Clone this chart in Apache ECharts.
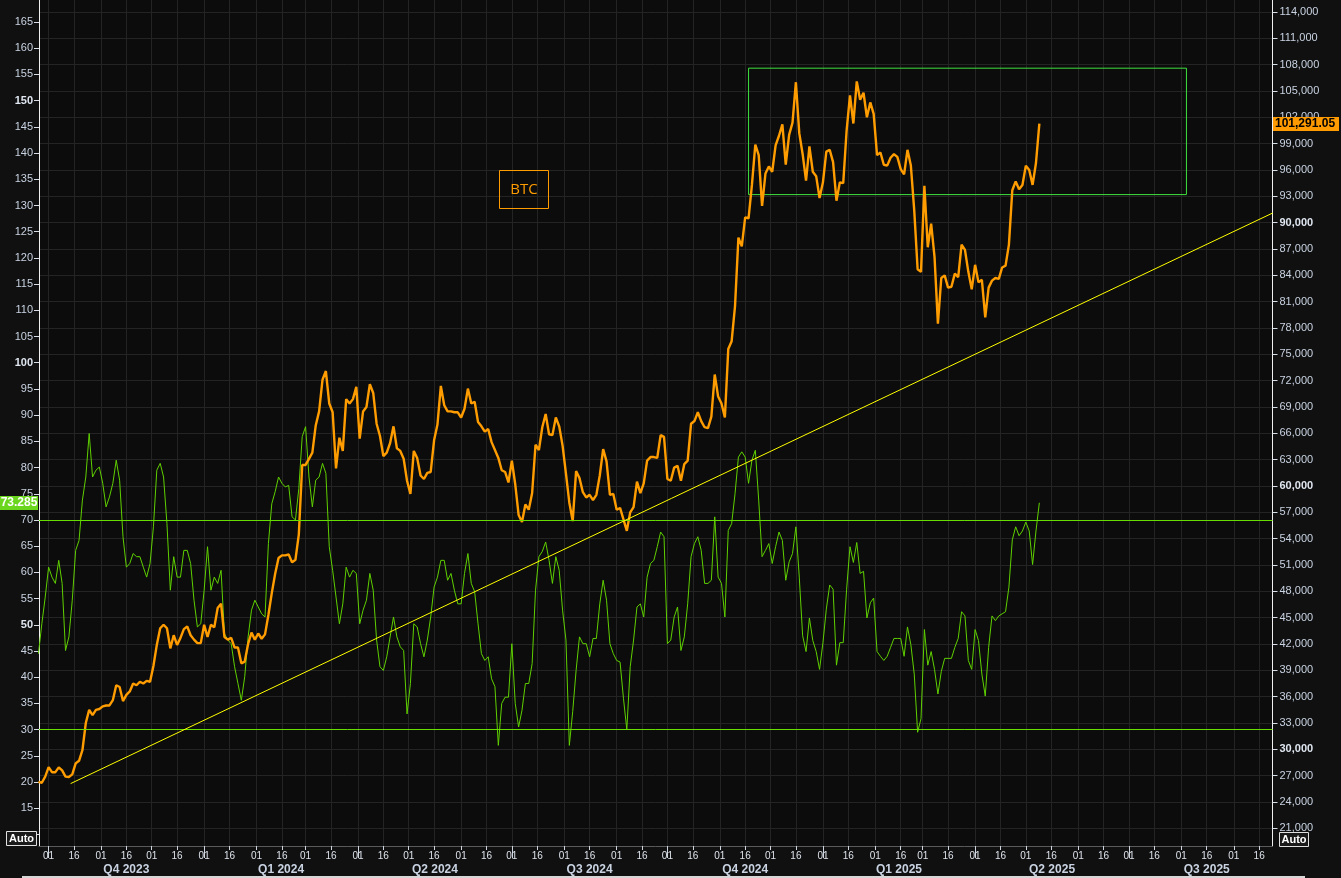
<!DOCTYPE html>
<html><head><meta charset="utf-8">
<script src="https://cdn.jsdelivr.net/npm/echarts@6/dist/echarts.min.js"></script>
<style>html,body{margin:0;padding:0;background:#101010;}#c{width:1341px;height:878px;}</style>
</head><body><div id="c"></div>
<script>
// ---------- DATA ----------
const SERIES_START = '2023-09-25';
const STEP_DAYS = 2;
const btc = [26300,26200,26900,27980,27400,27400,27950,27600,26900,26850,
27150,28400,28700,29900,33000,34500,33900,34500,34600,34900,
35000,35000,35600,37300,37100,35500,36200,36600,37500,37300,
37700,37500,37800,37700,39500,41900,43800,44200,43800,41500,
43000,41900,42700,43700,44000,43000,42500,42100,42100,44200,
42800,44200,43900,46100,46600,42800,42500,42700,41600,41600,
39800,40000,42000,43300,42500,43200,42600,43100,45300,47800,
50000,51800,52100,52100,52200,51300,51600,54500,62400,62400,
63100,63800,66900,68500,72100,73100,69400,68400,62000,65500,
64000,69900,69400,69900,71300,65400,68500,69000,71600,70600,
67100,65700,63400,63800,64900,66800,64300,64000,63100,60600,
59100,64000,63200,61200,60800,61500,61600,65200,67000,71400,
69200,68500,68500,68400,68400,67800,68800,71100,69400,69600,
67300,66800,66200,66500,65000,64100,63200,61800,61600,60400,
62900,60200,56700,55900,57900,57300,59200,64700,64100,66700,
68200,65900,65800,67800,66800,64600,61400,58100,56000,61700,
60900,59300,58700,59000,58400,59000,61200,64200,62800,59000,
59100,57300,57500,56200,54900,57000,57600,60500,59200,60300,
62900,63300,63300,63200,65800,65600,60800,60600,62100,62300,
60600,62500,62900,67100,67400,68400,67400,66700,66600,67900,
72700,70200,69400,67800,75600,76500,80500,88300,87300,90600,
90500,94300,98900,97700,91900,95600,96400,95800,98800,99900,
101200,96600,100000,101400,106000,100200,97800,94800,98700,95800,
95300,92800,94600,98100,98300,96900,92500,94600,94500,100500,
104500,101300,106100,104000,104800,102000,103700,102400,97700,98000,
96600,96500,97400,97800,97500,96100,95500,98300,96500,91400,
84700,84400,94200,87200,89900,86100,78500,83700,84000,82600,
82700,84200,83800,87500,86900,84400,82400,85200,83200,83500,
79200,82600,83400,83700,83600,84900,85100,87500,93700,94700,
93800,94300,96500,96000,94300,96800,101291.05];
const rsi = [44.5,50.2,55.3,61.0,59.1,57.9,62.3,57.9,45.1,47.7,
54.7,64.2,66.1,73.8,78.2,86.5,78.2,79.5,80.1,77.0,
72.5,74.4,77.0,81.4,77.6,66.8,61.0,61.7,63.6,63.0,
63.0,61.0,59.1,61.7,68.7,79.5,80.8,78.2,69.3,56.6,
63.0,59.1,59.1,64.2,64.2,61.7,54.7,49.6,50.2,56.6,
64.9,56.6,59.1,57.9,60.4,48.3,47.1,46.4,42.0,38.8,
35.6,40.1,47.7,52.8,54.7,53.4,52.1,51.5,65.5,73.1,
75.4,78.2,77.0,76.3,76.6,70.6,70.0,76.0,85.9,87.8,
78.2,72.5,77.6,78.2,80.8,78.9,64.9,60.4,55.3,50.2,
54.0,61.0,59.1,60.4,59.8,50.2,52.8,54.7,59.8,56.6,
47.1,42.0,41.3,43.9,47.7,51.5,47.7,45.8,45.1,33.0,
38.8,50.2,49.6,46.4,43.9,47.1,51.5,57.2,59.1,62.3,
62.3,58.5,59.8,56.6,54.0,54.0,59.8,63.6,57.9,56.3,
50.2,44.5,43.2,43.9,39.7,38.2,27.0,35.0,36.2,36.2,
46.4,35.0,30.5,33.7,38.8,38.8,42.6,56.6,63.0,64.0,
65.8,62.3,57.9,63.0,60.4,52.8,47.1,27.0,33.5,41.3,
47.7,46.4,46.4,43.9,47.4,47.4,54.0,58.5,54.7,46.4,
44.5,43.2,42.9,36.0,30.0,42.0,47.1,53.4,54.0,51.5,
59.1,61.7,62.3,64.9,67.7,66.8,46.4,47.1,51.5,53.4,
45.1,47.7,54.0,63.0,65.5,66.8,64.2,57.9,57.9,58.5,
70.6,59.1,57.9,51.5,68.0,69.3,75.0,82.0,83.0,82.0,
77.0,81.4,83.3,73.8,63.0,64.2,65.5,61.7,64.9,67.7,
66.1,58.5,62.0,63.6,68.7,59.1,47.9,44.9,51.3,47.0,
44.9,41.5,46.6,53.0,57.6,56.8,42.3,46.6,46.6,56.8,
64.9,61.9,65.7,59.8,60.2,51.3,54.2,55.1,44.9,44.0,
43.2,44.0,45.7,47.4,47.4,47.4,44.0,49.6,46.2,40.6,
29.5,32.1,49.1,42.3,44.9,41.5,36.8,41.1,43.6,43.6,
43.6,45.7,47.4,52.5,51.7,43.2,41.5,49.1,47.0,40.6,
36.4,45.7,51.7,50.8,51.7,52.1,52.5,57.2,66.2,68.7,
67.0,67.9,69.6,67.9,61.5,67.9,73.285];
const RSI_LEVELS = [70, 30];
const BOX_DATES = ['2024-11-18', '2025-08-04'];
const BOX_PRICES = [107600, 93200];
const TREND_DATES = ['2023-10-14', '2025-09-24'];
const TREND_PRICES = [26100, 91100];
const LEFT_TICK_MARKS = [10,15,20,25,30,35,40,45,50,55,60,65,70,75,80,85,90,95,100,105,110,115,120,125,130,135,140,145,150,155,160,165];
const LEFT_TICK_LABELS = [15,20,25,30,35,40,45,50,55,60,65,70,75,80,85,90,95,100,105,110,115,120,125,130,135,140,145,150,155,160,165];
const LEFT_BOLD = [50,100,150];
const RIGHT_TICKS = [21000,24000,27000,30000,33000,36000,39000,42000,45000,48000,51000,54000,57000,60000,63000,66000,69000,72000,75000,78000,81000,84000,87000,90000,93000,96000,99000,102000,105000,108000,111000,114000];
const RIGHT_BOLD = [30000,60000,90000];
const QUARTER_LABELS = ['Q4 2023','Q1 2024','Q2 2024','Q3 2024','Q4 2024','Q1 2025','Q2 2025','Q3 2025'];
const SERIES_NAME = 'BTC';

// ---------- helpers ----------
const DAY = 86400000;
const ts = s => Date.parse(s + 'T00:00:00Z');
const T_ORIGIN = Date.UTC(2023, 9, 1);
const X_MIN = T_ORIGIN - 5.68 * DAY;
const X_MAX = T_ORIGIN + 723.9 * DAY;
const t0 = ts(SERIES_START);
const btcData = btc.map((v, i) => [t0 + i * STEP_DAYS * DAY, v]);
const rsiData = rsi.map((v, i) => [t0 + i * STEP_DAYS * DAY, v]);
const trendData = TREND_DATES.map((d, i) => [ts(d), TREND_PRICES[i]]);

const dayTicks = [];
for (let y = 2023; y <= 2025; y++) for (let m = 0; m < 12; m++) {
  [1, 16].forEach(d => { const t = Date.UTC(y, m, d); if (t >= X_MIN && t <= X_MAX) dayTicks.push(t); });
}
const qStart = QUARTER_LABELS.map(q => { const n = +q[1]; const y = +q.slice(3); return Date.UTC(y, (n - 1) * 3, 1); });
const qEnd = QUARTER_LABELS.map(q => { const n = +q[1]; const y = +q.slice(3); return Date.UTC(y, n * 3, 1); });
const qMid = qStart.map((s, i) => (s + qEnd[i]) / 2);

const LABEL_COLOR = '#c9d3e2';
const FONT = 'Liberation Sans';
const GRID_COLOR = '#242424';
const L = 39, R = 68.5;

const chart = echarts.init(document.getElementById('c'), null, {renderer: 'canvas'});
const fmtNum = v => v.toLocaleString('en-US');

chart.setOption({
  animation: false,
  backgroundColor: '#101010',
  grid: [
    {left: L, right: R, top: 0, height: 854.7},
    {left: L, right: R, top: 0, height: 860.7},
    {left: L, right: R, top: 0, height: 846, show: true, backgroundColor: '#0c0c0c', borderWidth: 0}
  ],
  xAxis: [
    {gridIndex: 0, type: 'value', min: X_MIN, max: X_MAX, show: false},
    {gridIndex: 1, type: 'value', min: X_MIN, max: X_MAX, show: false},
    {gridIndex: 2, type: 'value', min: X_MIN, max: X_MAX, position: 'bottom',
      axisLine: {show: true, lineStyle: {color: '#5a5a5a', width: 1}},
      axisTick: {show: true, customValues: dayTicks, length: 4, lineStyle: {color: '#cfd6e0'}},
      axisLabel: {show: true, customValues: dayTicks, margin: 5, color: '#dde3ec', fontFamily: FONT, fontSize: 10,
        formatter: v => String(new Date(v).getUTCDate()).padStart(2, '0')},
      splitLine: {show: true, lineStyle: {color: GRID_COLOR, width: 1}},
      splitArea: {show: false}},
    {gridIndex: 2, type: 'value', min: X_MIN, max: X_MAX, position: 'bottom', offset: 17,
      axisLine: {show: false},
      axisTick: {show: true, customValues: qStart, length: 12, lineStyle: {color: '#cfd6e0'}},
      axisLabel: {show: true, customValues: qMid, margin: 1, color: LABEL_COLOR, fontFamily: FONT, fontSize: 12, fontWeight: 'bold',
        formatter: v => { let k = 0, best = Infinity; qMid.forEach((m, i) => { const d = Math.abs(m - v); if (d < best) { best = d; k = i; } }); return QUARTER_LABELS[k]; }},
      splitLine: {show: false}}
  ],
  yAxis: [
    {gridIndex: 0, type: 'value', position: 'right', min: 18000, max: 115367,
      axisLine: {show: false},
      axisTick: {show: true, customValues: RIGHT_TICKS, length: 5, lineStyle: {color: '#d8dee8'}},
      axisLabel: {show: true, customValues: RIGHT_TICKS, margin: 7, color: LABEL_COLOR, fontFamily: FONT, fontSize: 11,
        formatter: v => RIGHT_BOLD.includes(v) ? '{b|' + fmtNum(v) + '}' : fmtNum(v),
        rich: {b: {fontWeight: 'bold', color: '#dfe6f0', fontFamily: FONT, fontSize: 11}}},
      splitLine: {show: true, lineStyle: {color: GRID_COLOR, width: 1}}},
    {gridIndex: 1, type: 'value', position: 'left', min: 5, max: 169.2,
      axisLine: {show: false},
      axisTick: {show: true, customValues: LEFT_TICK_MARKS, length: 5, lineStyle: {color: '#d8dee8'}},
      axisLabel: {show: true, customValues: LEFT_TICK_LABELS, margin: 6, color: LABEL_COLOR, fontFamily: FONT, fontSize: 11,
        formatter: v => LEFT_BOLD.includes(v) ? '{b|' + v + '}' : String(v),
        rich: {b: {fontWeight: 'bold', color: '#dfe6f0', fontFamily: FONT, fontSize: 11}}},
      splitLine: {show: false}},
    {gridIndex: 2, type: 'value', position: 'left', min: 0, max: 1,
      axisLine: {show: true, lineStyle: {color: '#f0f0f0', width: 1}},
      axisTick: {show: false}, axisLabel: {show: false}, splitLine: {show: false}},
    {gridIndex: 2, type: 'value', position: 'right', min: 0, max: 1,
      axisLine: {show: true, lineStyle: {color: '#f0f0f0', width: 1}},
      axisTick: {show: false}, axisLabel: {show: false}, splitLine: {show: false}}
  ],
  series: [
    {type: 'line', name: 'RSI', xAxisIndex: 1, yAxisIndex: 1, data: rsiData, showSymbol: false, symbol: 'none',
      lineStyle: {color: '#5fd000', width: 1}, z: 3, silent: true,
      markLine: {silent: true, symbol: 'none', label: {show: false}, animation: false,
        lineStyle: {color: '#66dd00', width: 1, type: 'solid'},
        data: RSI_LEVELS.map(v => ({yAxis: v}))}},
    {type: 'line', name: SERIES_NAME, xAxisIndex: 0, yAxisIndex: 0, data: btcData, showSymbol: false, symbol: 'none',
      lineStyle: {color: '#ff9d00', width: 2.4}, z: 4, silent: true,
      markArea: {silent: true, label: {show: false},
        itemStyle: {color: 'rgba(0,0,0,0)', borderColor: '#3fe03f', borderWidth: 1},
        data: [[{coord: [ts(BOX_DATES[0]), BOX_PRICES[0]]}, {coord: [ts(BOX_DATES[1]), BOX_PRICES[1]]}]]}},
    {type: 'line', name: 'Trend', xAxisIndex: 0, yAxisIndex: 0, data: trendData, showSymbol: false, symbol: 'none',
      lineStyle: {color: '#ffff00', width: 1}, z: 6, silent: true}
  ]
});

// tags & annotations
const lastRsi = rsi[rsi.length - 1];
const lastBtc = btc[btc.length - 1];
const yR = chart.convertToPixel({yAxisIndex: 1}, lastRsi);
const yB = chart.convertToPixel({yAxisIndex: 0}, lastBtc);
const btcTxt = lastBtc.toLocaleString('en-US', {minimumFractionDigits: 2, maximumFractionDigits: 2});
chart.setOption({
  graphic: [
    {type: 'rect', shape: {x: 0, y: Math.round(yR) - 7, width: 38, height: 14}, style: {fill: '#6bd61e'}, z: 100},
    {type: 'text', x: 19, y: Math.round(yR), style: {text: lastRsi.toFixed(3), fill: '#ffffff', font: 'bold 12px "Liberation Sans"', align: 'center', verticalAlign: 'middle'}, z: 101},
    {type: 'rect', shape: {x: 1273, y: Math.round(yB) - 7, width: 66, height: 14}, style: {fill: '#ff9a00'}, z: 100},
    {type: 'text', x: 1275, y: Math.round(yB), style: {text: btcTxt, fill: '#000000', font: 'bold 12px "Liberation Sans"', align: 'left', verticalAlign: 'middle'}, z: 101},
    {type: 'rect', shape: {x: 6.5, y: 831.5, width: 30, height: 14}, style: {fill: '#1a1a1a', stroke: '#e0e0e0', lineWidth: 1}, z: 100},
    {type: 'text', x: 21.5, y: 839, style: {text: 'Auto', fill: '#ffffff', font: 'bold 11px "Liberation Sans"', align: 'center', verticalAlign: 'middle'}, z: 101},
    {type: 'rect', shape: {x: 1279.5, y: 832.5, width: 29, height: 14}, style: {fill: '#1a1a1a', stroke: '#e0e0e0', lineWidth: 1}, z: 100},
    {type: 'text', x: 1294, y: 840, style: {text: 'Auto', fill: '#ffffff', font: 'bold 11px "Liberation Sans"', align: 'center', verticalAlign: 'middle'}, z: 101},
    {type: 'rect', shape: {x: 499.5, y: 170.5, width: 49, height: 38}, style: {fill: 'rgba(0,0,0,0)', stroke: '#ff9d00', lineWidth: 1}, z: 100},
    {type: 'text', x: 524, y: 189.5, style: {text: SERIES_NAME, fill: '#ff9d00', font: '15px "Open Sans"', align: 'center', verticalAlign: 'middle'}, z: 101},
    {type: 'rect', shape: {x: 22, y: 876, width: 1283, height: 2}, style: {fill: '#d6d6d6'}, z: 100}
  ]
});
</script></body></html>
